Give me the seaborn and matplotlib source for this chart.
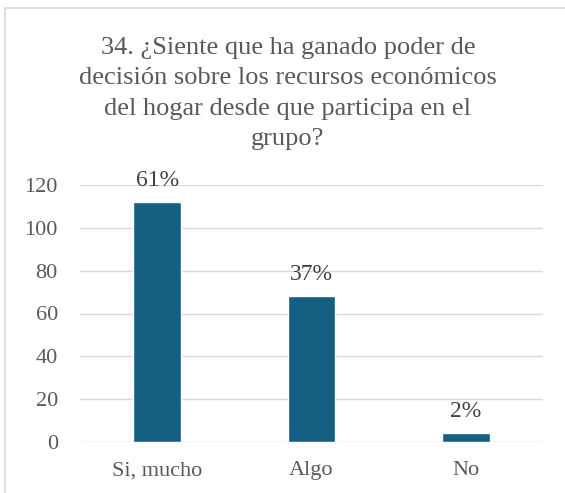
import matplotlib
matplotlib.use("Agg")
import matplotlib.pyplot as plt
import seaborn as sns
import pandas as pd
from matplotlib.patches import Rectangle

categories = ["Si, mucho", "Algo", "No"]
values = [112, 68, 4]
labels = ["61%", "37%", "2%"]
title = ("34. ¿Siente que ha ganado poder de\ndecisión sobre los recursos económicos\n"
         "del hogar desde que participa en el\ngrupo?")

sns.set_theme(style="white")
plt.rcParams['font.family'] = ['Liberation Serif', 'DejaVu Serif']

df = pd.DataFrame({"cat": categories, "val": values})

fig = plt.figure(figsize=(5.65, 4.93), dpi=100)
ax = fig.add_axes([80/565, 1-442/493, (543-80)/565, (442-185)/493])

sns.barplot(data=df, x="cat", y="val", color="#156082", saturation=1, width=0.31, ax=ax)

ax.set_ylim(0, 120)
ax.set_yticks(range(0, 121, 20))
ax.yaxis.grid(True, color="#D9D9D9", linewidth=1)
ax.set_axisbelow(True)
for s in ax.spines.values():
    s.set_visible(False)
ax.tick_params(axis="y", length=0, pad=16, labelsize=16, labelcolor="#595959")
ax.tick_params(axis="x", length=0, pad=14, labelsize=16, labelcolor="#595959")
ax.set_xlabel("")
ax.set_ylabel("")

ax.bar_label(ax.containers[0], labels=labels, padding=8, fontsize=17, color="#404040")

fig.text(288/565, 1-37/493, title, ha="center", va="top", fontsize=19, color="#595959",
         linespacing=1.5)

fig.patches.append(Rectangle((5/565, -0.01), 1.0, 1-8/493+0.01, transform=fig.transFigure,
                             fill=False, edgecolor="#D9D9D9", linewidth=1.2))

fig.savefig("out.png", dpi=100)
